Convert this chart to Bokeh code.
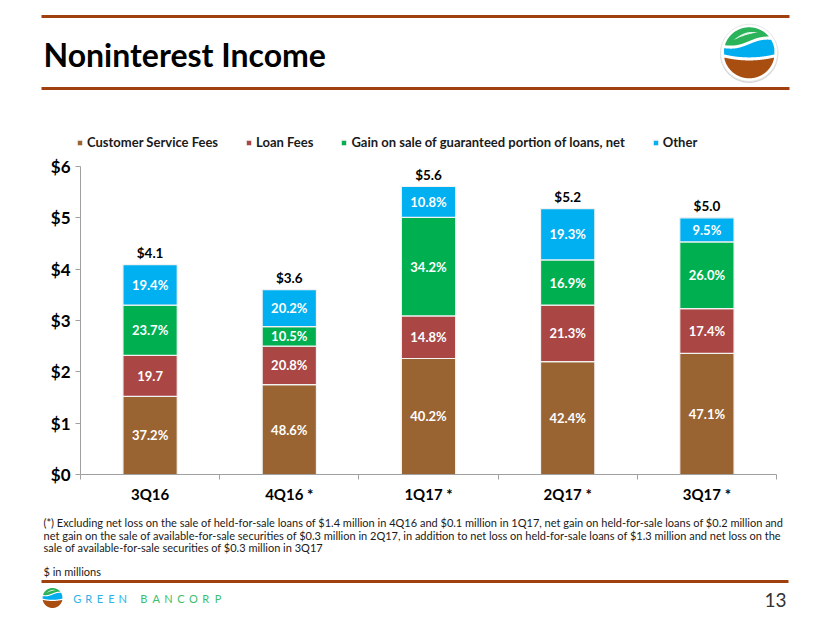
import numpy as np
from bokeh.plotting import figure
from bokeh.models import (ColumnDataSource, Range1d, FixedTicker, PrintfTickFormatter,
                          Legend, LegendItem)
from bokeh.core.properties import value
from bokeh.embed import file_html
from bokeh.resources import INLINE

# ---------------- data ----------------
quarters = ["3Q16", "4Q16 *", "1Q17 *", "2Q17 *", "3Q17 *"]
series_names = ["Customer Service Fees", "Loan Fees",
                "Gain on sale of guaranteed portion of loans, net", "Other"]
customer_service = [1.52, 1.75, 2.26, 2.20, 2.36]
loan_fees = [0.80, 0.75, 0.83, 1.10, 0.87]
gain_on_sale = [0.98, 0.38, 1.92, 0.88, 1.30]
other = [0.79, 0.72, 0.60, 1.00, 0.47]
customer_pct = ["37.2%", "48.6%", "40.2%", "42.4%", "47.1%"]
loan_pct = ["19.7", "20.8%", "14.8%", "21.3%", "17.4%"]
gain_pct = ["23.7%", "10.5%", "34.2%", "16.9%", "26.0%"]
other_pct = ["19.4%", "20.2%", "10.8%", "19.3%", "9.5%"]
total_labels = ["$4.1", "$3.6", "$5.6", "$5.2", "$5.0"]
y_ticks = [0, 1, 2, 3, 4, 5, 6]
title_text = "Noninterest Income"
footnote_lines = [
    "(*) Excluding net loss on the sale of held-for-sale loans of $1.4 million in 4Q16 and $0.1 million in 1Q17, net gain on held-for-sale loans of $0.2 million and",
    "net gain on the sale of available-for-sale securities of $0.3 million in 2Q17, in addition to net loss on held-for-sale loans of $1.3 million and net loss on the",
    "sale of available-for-sale securities of $0.3 million in 3Q17",
]
units_note = "$ in millions"
page_number = "13"
brand_a = "GREEN"
brand_b = "BANCORP"

# ---------------- style / layout ----------------
FONT = "Lato"
COLORS = ["#9A6432", "#AA4644", "#00B050", "#00B0F0"]
AX = "#A0A0A0"
RULE = "#A0400F"
PX0, PX1, PY0, PY1 = 0, 822, 0, 615          # canvas extent in page pixels
CX0, CX1, CYT, CYB = 80, 776, 166, 474       # chart area in page pixels
YMAX = 6
n = len(quarters)
ux = (CX1 - CX0) / n
uy = (CYB - CYT) / YMAX

p = figure(width=PX1 - PX0, height=PY1 - PY0,
           x_range=Range1d(-(CX0 - PX0) / ux, n + (PX1 - CX1) / ux),
           y_range=Range1d(-(PY1 - CYB) / uy, YMAX + (CYT - PY0) / uy),
           output_backend="svg", toolbar_location=None, tools="", min_border=0)
p.extra_x_ranges = {"page": Range1d(PX0, PX1)}
p.extra_y_ranges = {"page": Range1d(PY1, PY0)}
p.outline_line_color = None
p.grid.visible = False
p.background_fill_color = "white"
p.border_fill_color = "white"
PG = dict(x_range_name="page", y_range_name="page")


def region(cx, cy, R, top_fn, bot_fn, npts=140):
    xs = np.linspace(-R, R, npts)
    circ = np.sqrt(np.maximum(R ** 2 - xs ** 2, 0))
    top = np.maximum(-circ, top_fn(xs / R) * R)
    bot = np.minimum(circ, bot_fn(xs / R) * R)
    m = top < bot
    xx = xs[m]
    px = np.concatenate([xx, xx[::-1]]) + cx
    py = np.concatenate([top[m], bot[m][::-1]]) + cy
    return px, py


def draw_logo(cx, cy, R, ring):
    t = np.linspace(0, 2 * np.pi, 120)
    if ring:
        p.patch(cx + (R + 3.6) * np.cos(t), cy + 1 + (R + 3.6) * np.sin(t),
                fill_color="#d5d5d5", line_color=None, **PG)
        p.patch(cx + (R + 3) * np.cos(t), cy + (R + 3) * np.sin(t),
                fill_color="white", line_color="#e6e6e6", line_width=1, **PG)
    g = 0.06
    wave = lambda u: -0.40 - 0.16 * u - 0.08 * np.sin(np.pi * u)
    bowl = lambda u: 0.12 + 0.12 * (1 - u ** 2)
    full_top = lambda u: -2 + 0 * u
    full_bot = lambda u: 2 + 0 * u
    gx, gy = region(cx, cy, R, full_top, lambda u: wave(u) - g)
    bx, by = region(cx, cy, R, lambda u: wave(u) + g, lambda u: bowl(u) - g)
    rx, ry = region(cx, cy, R, lambda u: bowl(u) + g, full_bot)
    p.patch(gx, gy, fill_color="#2BB35A", line_color=None, **PG)
    p.patch(bx, by, fill_color="#00AEEF", line_color=None, **PG)
    p.patch(rx, ry, fill_color="#A84E10", line_color=None, **PG)
    s = np.linspace(0, 1, 40)
    lx = cx + R * (-0.62 + 0.95 * s)
    base = cy + R * (-0.50 - 0.30 * s)
    up = base - R * 0.13 * np.sin(np.pi * s)
    lo = base - R * 0.04 * np.sin(np.pi * s)
    p.patch(np.concatenate([lx, lx[::-1]]), np.concatenate([up, lo[::-1]]),
            fill_color="white", fill_alpha=0.85, line_color=None, **PG)


# ---------------- header ----------------
p.segment(x0=[41, 41], y0=[16, 88], x1=[789, 789], y1=[16, 88], line_color=RULE,
          line_width=3, **PG)
p.text(x=[43], y=[54], text=[title_text], text_font=value(FONT), text_font_size="32px",
       text_font_style="bold", text_baseline="middle", text_align="left",
       text_color="#000000", **PG)
draw_logo(748.7, 52.3, 25.5, True)

# ---------------- chart ----------------
centers = [i + 0.5 for i in range(n)]
src = ColumnDataSource(dict(x=centers, cs=customer_service, lf=loan_fees,
                            gs=gain_on_sale, ot=other))
renderers = p.vbar_stack(["cs", "lf", "gs", "ot"], x="x", width=0.39, source=src,
                         fill_color=COLORS, line_color="#f2f2f2", line_width=1.2)

stack = np.array([customer_service, loan_fees, gain_on_sale, other])
tops = np.cumsum(stack, axis=0)
mids = tops - stack / 2
pct_lists = [customer_pct, loan_pct, gain_pct, other_pct]
lab_x, lab_y, lab_t = [], [], []
for i in range(4):
    lab_x += centers
    lab_y += list(mids[i])
    lab_t += pct_lists[i]
p.text(x=lab_x, y=lab_y, text=lab_t, text_font=value(FONT), text_font_size="13px",
       text_font_style="bold", text_color="white", text_align="center", text_baseline="middle")
p.text(x=centers, y=list(tops[-1]), text=total_labels, y_offset=-12, text_font=value(FONT),
       text_font_size="13.5px", text_font_style="bold", text_color="#000000",
       text_align="center", text_baseline="middle")

yax = p.yaxis[0]
yax.fixed_location = 0
yax.bounds = (0, YMAX)
yax.ticker = FixedTicker(ticks=y_ticks)
yax.formatter = PrintfTickFormatter(format="$%d")
yax.major_label_text_font = FONT
yax.major_label_text_font_size = "17px"
yax.major_label_text_font_style = "bold"
yax.major_label_text_color = "#000000"
yax.major_tick_out = 5
yax.major_tick_in = 0
yax.minor_tick_line_color = None
yax.axis_line_color = AX
yax.major_tick_line_color = AX
yax.major_label_standoff = 5

xax = p.xaxis[0]
xax.fixed_location = 0
xax.bounds = (0, n)
xax.ticker = FixedTicker(ticks=centers, minor_ticks=list(range(n + 1)))
xax.major_label_overrides = {c: q for c, q in zip(centers, quarters)}
xax.major_tick_line_color = None
xax.major_tick_out = 0
xax.major_tick_in = 0
xax.minor_tick_line_color = AX
xax.minor_tick_out = 5
xax.minor_tick_in = 0
xax.axis_line_color = AX
xax.major_label_text_font = FONT
xax.major_label_text_font_size = "15px"
xax.major_label_text_font_style = "bold"
xax.major_label_text_color = "#000000"
xax.major_label_standoff = 5

legend = Legend(items=[LegendItem(label=nm, renderers=[r]) for nm, r in zip(series_names, renderers)],
                orientation="horizontal", location=(76 - PX0, PY1 - 150), glyph_width=7,
                glyph_height=7, label_standoff=4, spacing=27, padding=0, margin=0,
                border_line_color=None, background_fill_alpha=0, label_text_font=FONT,
                label_text_font_size="13px", label_text_font_style="bold",
                label_text_color="#1a1a1a")
p.add_layout(legend, "center")

# ---------------- footer ----------------
p.text(x=[43, 43, 43, 43], y=[522, 534.5, 547, 571], text=footnote_lines + [units_note],
       text_font=value(FONT), text_font_size="11px", text_color="#1a1a1a",
       text_align="left", text_baseline="middle", **PG)
p.segment(x0=[41], y0=[581], x1=[788], y1=[581], line_color=RULE, line_width=3, **PG)
draw_logo(52, 597.5, 10, False)
ga = list(brand_a)
gb = list(brand_b)
p.text(x=[71 + (i + 0.5) * 11.4 for i in range(len(ga))], y=[598] * len(ga), text=ga,
       text_font=value(FONT), text_font_size="11px", text_color="#2DB3E8",
       text_align="center", text_baseline="middle", **PG)
p.text(x=[137 + (i + 0.5) * 12.4 for i in range(len(gb))], y=[598] * len(gb), text=gb,
       text_font=value(FONT), text_font_size="11px", text_color="#3CBF6A",
       text_align="center", text_baseline="middle", **PG)
p.text(x=[786], y=[599], text=[page_number], text_font=value(FONT), text_font_size="19px",
       text_color="#333333", text_align="right", text_baseline="middle", **PG)

open("out.html", "w").write(file_html(p, INLINE))
